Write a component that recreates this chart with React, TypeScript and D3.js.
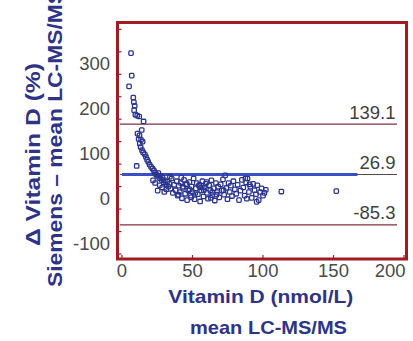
import React from "react";
import * as d3 from "d3";

// Bland–Altman style difference plot: Siemens vs LC-MS/MS vitamin D
const meanLcms: number[] = [
  6.4, 6.9, 5.0, 8.0, 8.4, 9.0, 8.6, 9.5, 10.8, 12.2, 15.3, 14.0, 11.0, 12.4, 11.8, 13.5, 14.6, 12.6, 13.2, 14.2,
  15.0, 16.2, 17.0, 17.8, 18.6, 19.6, 10.4, 20.6, 21.6, 22.6,
  23.4, 24.2, 25.0, 25.8, 26.5, 27.3, 28.0, 28.8, 29.6, 30.4, 31.2, 32.0, 32.8, 33.6, 34.4, 35.2, 22.0, 23.5, 25.3,
  26.8, 28.5, 30.0, 31.5, 34.0, 36.0, 37.0,
  38, 38.8, 39.5, 40.3, 41, 41.8, 42.5, 43.2, 44, 44.8, 45.5, 46.2, 47, 47.8, 48.5, 49.3, 50, 50.8, 51.5, 52.3, 53,
  53.8, 54.6, 55.4, 56.2, 57, 57.8, 58.6, 59.4, 60.2, 61, 61.8, 62.6, 63.4, 64.2, 65, 65.8, 66.6, 67.4, 68.2, 69,
  70, 70.8, 71.6, 72.4, 73.2, 74, 74.8, 75.6, 76.4, 77.2, 78, 79, 80, 81, 82, 83, 84, 85, 86, 87, 88, 89, 90, 91,
  92, 93, 94, 95, 96, 97, 98, 99, 100, 101, 102, 88.5, 95.5, 87.5, 90.5,
  40, 43, 46, 49, 52, 55, 58, 60, 63, 67, 42, 48, 56, 64, 72,
  113, 152,
];

const deltaPct: number[] = [
  297, 247, 223, 198, 188, 180, 170, 160, 158, 156, 145, 126, 118, 114, 106, 104, 100, 96, 88, 81,
  76, 72, 66, 60, 55, 49, 46, 44, 40, 36,
  31, 27, 24, 30, 19, 24, 15, 20, 9, 14, 4, 11, 0, 6, -5, 18, 14, 8, -9,
  3, -2, -12, -6, 22, -14, 4,
  -8, 12, -20, 2, -12, 8, -26, -3, 15, -16, 5, -30, -8, 10, -20, 0, -12, 18, -28, -4, 8,
  -17, 2, -33, -9, 12, -22, -2, 6, -14, -27, 3, -8, 14, -19, -4, -31, 8, -12, 0, -24,
  5, -9, 16, -18, 25, -3, -28, 8, -12, 2, -21, 12, -6, -16, 4, -30, -9, 15, -2, -20, 9, 18, -12, 0,
  -25, 6, -8, -17, 3, -30, -12, -4, -20, -14, -7, -27, -34, 18, 5,
  -18, 0, 6, -24, -14, 4, -8, 10, -25, -18, 20, -6, -2, -12, -8,
  -11, -10,
];

// Limits of agreement and mean bias
const limitValues: number[] = [139.1, 26.9, -85.3];
const limitLabels: string[] = ["139.1", "26.9", "-85.3"];
const biasValue = 26.9;
const biasEnd = 167;

const xTicks: number[] = [0, 50, 100, 150, 200];
const yTicks: number[] = [-100, 0, 100, 200, 300];
const yMinorTicks: number[] = [-150, -100, -50, 0, 50, 100, 150, 200, 250, 300, 350];

const W = 413;
const H = 341;

export default function App() {
  const x = d3.scaleLinear().domain([0, 200]).range([122, 404]);
  const y = d3.scaleLinear().domain([-160, 365]).range([258.5, 22.6]);

  const frame = { x0: 117.5, x1: 406.5, y0: 22.5, y1: 259 };
  const navy = "#2f3385";
  const frameRed = "#a11b22";
  const tickGray = "#4a4a4a";
  const markerBlue = "#2b3590";

  const points = meanLcms.map((m, i) => [m, deltaPct[i]] as [number, number]);

  return (
    <svg
      width={W}
      height={H}
      viewBox={`0 0 ${W} ${H}`}
      style={{ position: "absolute", left: 0, top: 0, background: "#fff" }}
      fontFamily="'Liberation Sans', Arial, Helvetica, sans-serif"
    >
      <rect x={0} y={0} width={W} height={H} fill="#fff" />

      {/* limit-of-agreement lines */}
      {limitValues.map((v, i) => (
        <line
          key={`lim-${i}`}
          x1={x(-1.5)}
          x2={x(195)}
          y1={y(v)}
          y2={y(v)}
          stroke={v === biasValue ? "#5a4650" : "#7e3040"}
          strokeWidth={1.2}
        />
      ))}

      {/* mean bias line */}
      <line
        x1={x(0)}
        x2={x(biasEnd)}
        y1={y(biasValue)}
        y2={y(biasValue)}
        stroke="#3b4fc4"
        strokeWidth={3}
      />

      {/* data points */}
      {points.map(([m, d], i) => (
        <rect
          key={`pt-${i}`}
          x={x(m) - 2.2}
          y={y(d) - 2.2}
          width={4.4}
          height={4.4}
          rx={1}
          fill="none"
          stroke={markerBlue}
          strokeWidth={1.3}
        />
      ))}

      {/* limit labels */}
      {limitValues.map((v, i) => (
        <text
          key={`ll-${i}`}
          x={x(194)}
          y={y(v) - 5.5}
          textAnchor="end"
          fontSize={18.5}
          fill="#3f3f3f"
        >
          {limitLabels[i]}
        </text>
      ))}

      {/* axis ticks inside the frame */}
      {yMinorTicks.map((t) => (
        <line
          key={`yt-${t}`}
          x1={frame.x0}
          x2={frame.x0 + 4}
          y1={y(t)}
          y2={y(t)}
          stroke="#8a2a2a"
          strokeWidth={1.2}
        />
      ))}
      {xTicks.map((t) => (
        <line
          key={`xt-${t}`}
          x1={x(t)}
          x2={x(t)}
          y1={frame.y1}
          y2={frame.y1 - 4}
          stroke="#8a2a2a"
          strokeWidth={1.2}
        />
      ))}

      {/* frame */}
      <rect
        x={frame.x0}
        y={frame.y0}
        width={frame.x1 - frame.x0}
        height={frame.y1 - frame.y0}
        fill="none"
        stroke={frameRed}
        strokeWidth={3}
      />

      {/* tick labels */}
      {yTicks.map((t) => (
        <text
          key={`yl-${t}`}
          x={110}
          y={y(t) + 18}
          textAnchor="end"
          fontSize={18.5}
          fill={tickGray}
        >
          {t}
        </text>
      ))}
      {xTicks.map((t, i) => (
        <text
          key={`xl-${t}`}
          x={i === xTicks.length - 1 ? frame.x1 - 1 : x(t)}
          y={277}
          textAnchor={i === xTicks.length - 1 ? "end" : "middle"}
          fontSize={18.5}
          fill={tickGray}
        >
          {t}
        </text>
      ))}

      {/* x-axis title */}
      <text
        x={168.3}
        y={303}
        fontSize={19}
        fontWeight="bold"
        fill={navy}
        textLength={185}
        lengthAdjust="spacingAndGlyphs"
      >
        Vitamin D (nmol/L)
      </text>
      <text
        x={190}
        y={334}
        fontSize={19}
        fontWeight="bold"
        fill={navy}
        textLength={157}
        lengthAdjust="spacingAndGlyphs"
      >
        mean LC-MS/MS
      </text>

      {/* y-axis title */}
      <text
        transform="translate(40,246) rotate(-90)"
        fontSize={19.5}
        fontWeight="bold"
        fill={navy}
        textLength={183}
        lengthAdjust="spacingAndGlyphs"
      >
        Δ Vitamin D (%)
      </text>
      <text
        transform="translate(61.5,287) rotate(-90)"
        fontSize={19.5}
        fontWeight="bold"
        fill={navy}
        textLength={298}
        lengthAdjust="spacingAndGlyphs"
      >
        Siemens – mean LC-MS/MS
      </text>
    </svg>
  );
}
